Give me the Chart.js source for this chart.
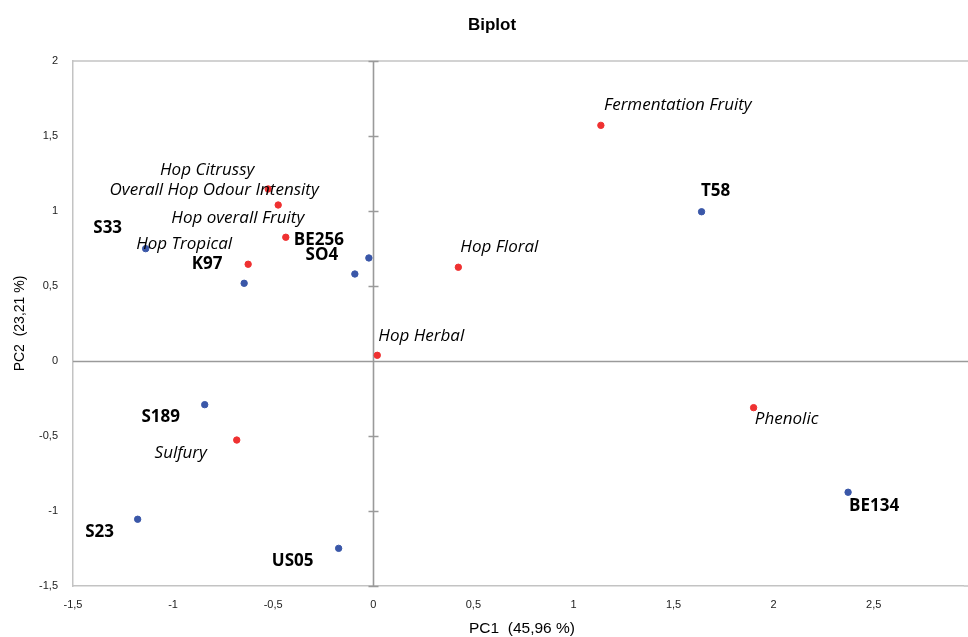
<!DOCTYPE html>
<html>
<head>
<meta charset="utf-8">
<script src="https://cdn.jsdelivr.net/npm/chart.js@4/dist/chart.umd.min.js"></script>
<style>
  html, body { margin: 0; padding: 0; background: #fff; overflow: hidden; }
  #wrap { width: 968px; height: 637px; position: relative; }
</style>
</head>
<body>
<div id="wrap"><canvas id="biplot"></canvas></div>
<script>
// Observations (yeast strains) - blue points
const sampleNames = ['S33', 'K97', 'BE256', 'SO4', 'T58', 'S189', 'S23', 'US05', 'BE134'];
const sampleX = [-1.137, -0.645, -0.022, -0.092, 1.64, -0.842, -1.177, -0.173, 2.372];
const sampleY = [0.749, 0.518, 0.687, 0.58, 0.995, -0.291, -1.055, -1.249, -0.875];

// Variables (sensory attributes) - red points
const attrNames = ['Hop Citrussy', 'Overall Hop Odour Intensity', 'Hop overall Fruity', 'Hop Tropical',
    'Hop Floral', 'Hop Herbal', 'Fermentation Fruity', 'Phenolic', 'Sulfury'];
const attrX = [-0.525, -0.475, -0.437, -0.625, 0.425, 0.02, 1.137, 1.9, -0.682];
const attrY = [1.147, 1.04, 0.825, 0.645, 0.625, 0.038, 1.571, -0.311, -0.527];

// Axis ticks
const xTicks = [-1.5, -1, -0.5, 0, 0.5, 1, 1.5, 2, 2.5];
const yTicks = [-1.5, -1, -0.5, 0, 0.5, 1, 1.5, 2];

// label offsets in pixels (dx, dy from point, text centred)
const sampleLabelOffsets = [[-38, -20], [-37, -19], [-50, -18], [-33, -19], [14, -21], [-44, 13], [-38, 13], [-46, 13], [26, 14]];
const attrLabelOffsets = [[-61, -19], [-64, -15], [-48, -19], [-64, -20], [41, -20], [44, -19], [77, -20], [33, 12], [-56, 13]];

const fmt = v => String(v).replace('.', ',');

const annotate = {
    id: 'annotate',
    beforeDatasetsDraw(chart) {
        const { ctx, chartArea: a, scales: { x, y } } = chart;
        const right = chart.width;
        ctx.save();
        // plot box top border
        ctx.strokeStyle = '#c3c3c3';
        ctx.lineWidth = 1.5;
        ctx.beginPath();
        ctx.moveTo(a.left, a.top);
        ctx.lineTo(right, a.top);
        ctx.moveTo(a.right, a.bottom);
        ctx.lineTo(right, a.bottom);
        ctx.stroke();
        // zero axes
        const x0 = Math.round(x.getPixelForValue(0)) + 0.5;
        const y0 = Math.round(y.getPixelForValue(0)) + 0.5;
        ctx.strokeStyle = '#9a9a9a';
        ctx.lineWidth = 1.6;
        ctx.beginPath();
        ctx.moveTo(a.left, y0);
        ctx.lineTo(right, y0);
        ctx.moveTo(x0, a.top);
        ctx.lineTo(x0, a.bottom);
        yTicks.forEach(v => {
            const py = Math.round(y.getPixelForValue(v)) + 0.5;
            ctx.moveTo(x0 - 5, py);
            ctx.lineTo(x0 + 5, py);
        });
        ctx.stroke();
        ctx.restore();
    },
    afterDatasetsDraw(chart) {
        const { ctx, chartArea: a, scales: { x, y } } = chart;
        ctx.save();
        ctx.textAlign = 'center';
        ctx.textBaseline = 'middle';
        ctx.fillStyle = '#000';
        ctx.font = 'bold 17px "Open Sans", Lato, sans-serif';
        sampleNames.forEach((n, i) => {
            const px = x.getPixelForValue(sampleX[i]);
            const py = y.getPixelForValue(sampleY[i]);
            ctx.fillText(n, px + sampleLabelOffsets[i][0], py + sampleLabelOffsets[i][1]);
        });
        ctx.font = 'italic 17px "Open Sans", Lato, sans-serif';
        attrNames.forEach((n, i) => {
            const px = x.getPixelForValue(attrX[i]);
            const py = y.getPixelForValue(attrY[i]);
            ctx.fillText(n, px + attrLabelOffsets[i][0], py + attrLabelOffsets[i][1]);
        });
        // title
        ctx.font = 'bold 17px "Liberation Sans", Arial, sans-serif';
        ctx.fillText('Biplot', 492, 25);
        // axis titles
        ctx.font = '15.5px "Liberation Sans", Arial, sans-serif';
        ctx.fillText('PC1  (45,96 %)', 522, 629);
        ctx.font = '14px "Liberation Sans", Arial, sans-serif';
        ctx.translate(20, (a.top + a.bottom) / 2);
        ctx.rotate(-Math.PI / 2);
        ctx.fillText('PC2  (23,21 %)', 0, 0);
        ctx.restore();
    }
};

const keepTicks = list => scale => {
    scale.ticks = list.map(v => ({ value: v }));
};

new Chart(document.getElementById('biplot'), {
    type: 'scatter',
    data: {
        datasets: [{
            label: 'Observations',
            data: sampleX.map((v, i) => ({ x: v, y: sampleY[i] })),
            backgroundColor: '#3a57a8',
            borderColor: '#3a57a8',
            pointRadius: 3.2,
            pointHoverRadius: 3.2
        }, {
            label: 'Variables',
            data: attrX.map((v, i) => ({ x: v, y: attrY[i] })),
            backgroundColor: '#ef3131',
            borderColor: '#ef3131',
            pointRadius: 3.2,
            pointHoverRadius: 3.2
        }]
    },
    options: {
        responsive: true,
        maintainAspectRatio: false,
        animation: false,
        layout: { padding: { top: 61, right: 0, left: 0, bottom: 0 } },
        plugins: {
            legend: { display: false },
            tooltip: { enabled: false }
        },
        scales: {
            x: {
                type: 'linear',
                min: -1.5,
                max: 2.95,
                afterBuildTicks: keepTicks(xTicks),
                afterFit: s => { s.height = 51; s.paddingLeft = 0; s.paddingRight = 0; },
                grid: { display: false, drawTicks: false },
                border: { display: true, color: '#c3c3c3', width: 1.5 },
                ticks: {
                    padding: 12,
                    maxRotation: 0,
                    autoSkip: false,
                    color: '#222',
                    font: { family: '"Liberation Sans", Arial, sans-serif', size: 11 },
                    callback: v => fmt(v)
                }
            },
            y: {
                type: 'linear',
                min: -1.5,
                max: 2,
                afterBuildTicks: keepTicks(yTicks),
                afterFit: s => { s.width = 73; s.paddingTop = 0; s.paddingBottom = 0; },
                grid: { display: false, drawTicks: false },
                border: { display: true, color: '#c3c3c3', width: 1.5 },
                ticks: {
                    padding: 15,
                    autoSkip: false,
                    color: '#222',
                    font: { family: '"Liberation Sans", Arial, sans-serif', size: 11 },
                    callback: v => fmt(v)
                }
            }
        }
    },
    plugins: [annotate]
});
</script>
</body>
</html>
